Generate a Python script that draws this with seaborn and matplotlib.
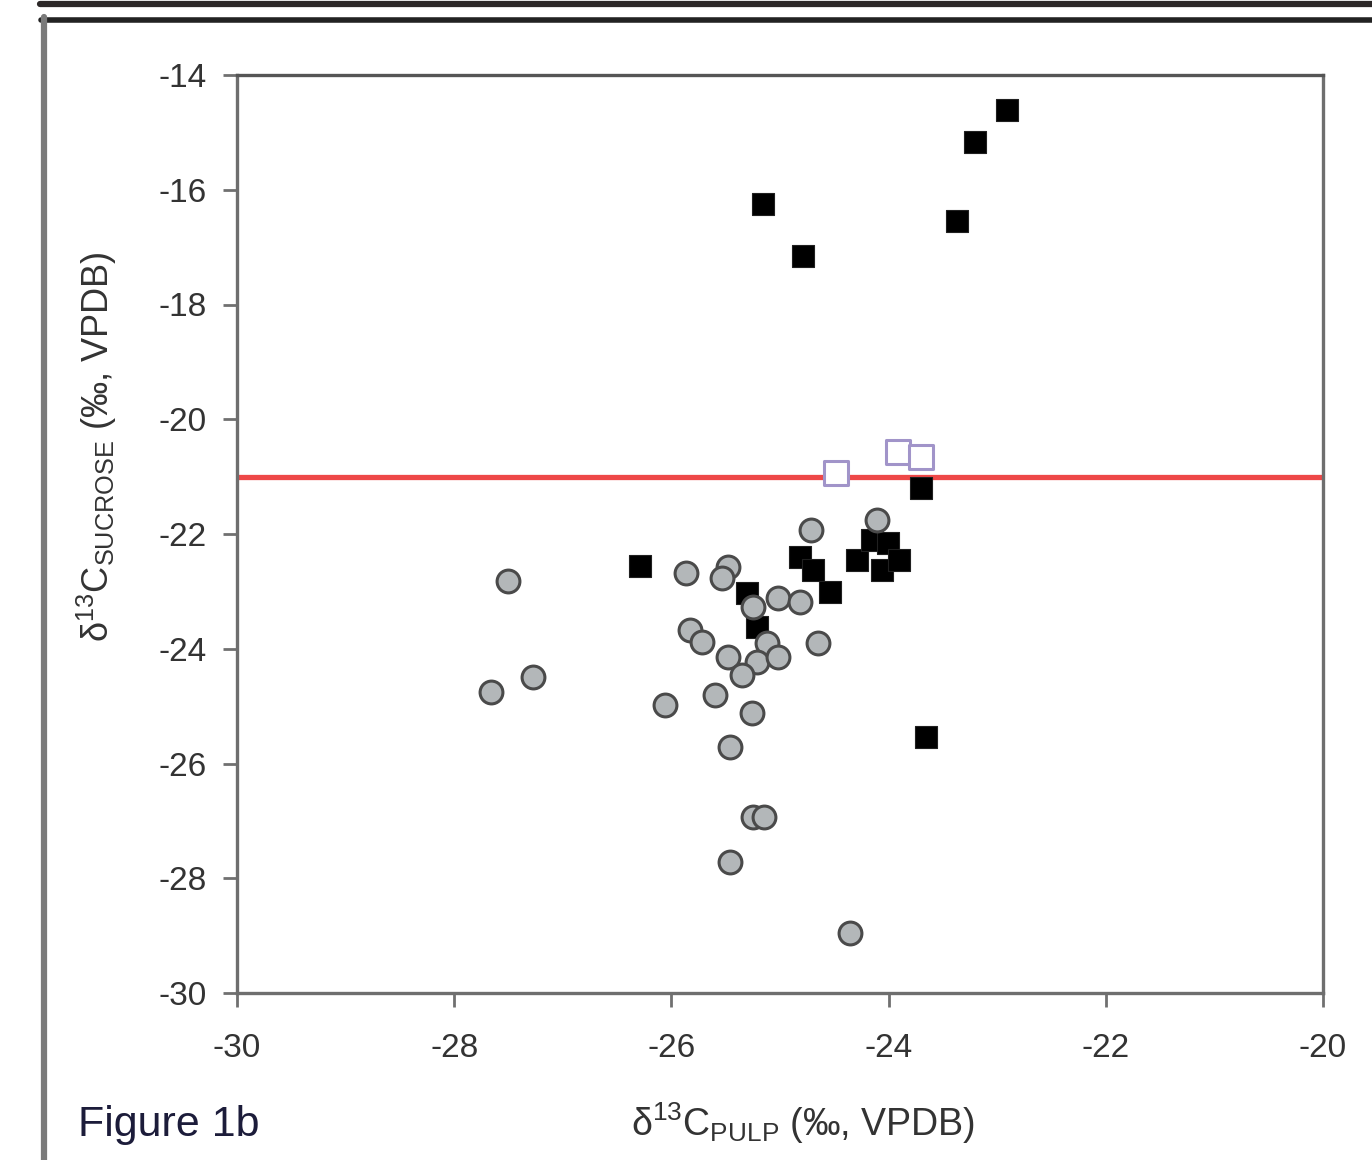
import numpy as np
import pandas as pd
import matplotlib
matplotlib.use("Agg")
import matplotlib.pyplot as plt
from matplotlib.lines import Line2D
import seaborn as sns

# ---- data ----
circle_x = [-24.71, -25.87, -25.48, -25.53, -25.02, -24.82, -25.25, -25.83, -25.72,
            -25.12, -24.65, -25.48, -25.21, -25.02, -25.35, -26.06, -25.60, -25.26,
            -25.46, -25.25, -25.15, -25.46, -24.36, -27.50, -27.27, -27.66, -24.11]
circle_y = [-21.93, -22.68, -22.57, -22.77, -23.12, -23.18, -23.27, -23.67, -23.88,
            -23.90, -23.90, -24.14, -24.23, -24.14, -24.46, -24.98, -24.81, -25.12,
            -25.71, -26.93, -26.93, -27.72, -28.95, -22.82, -24.49, -24.75, -21.76]

black_x = [-22.91, -23.20, -25.16, -23.37, -24.79, -23.70, -26.29, -23.66, -25.30,
           -25.21, -24.82, -24.70, -24.54, -24.29, -24.15, -24.01, -24.06, -23.90]
black_y = [-14.61, -15.17, -16.25, -16.54, -17.15, -21.20, -22.56, -25.54, -23.03,
           -23.62, -22.40, -22.63, -23.01, -22.45, -22.10, -22.16, -22.63, -22.45]

open_x = [-24.48, -23.91, -23.70]
open_y = [-20.94, -20.57, -20.66]

threshold = -21.0
x_ticks = [-30, -28, -26, -24, -22, -20]
y_ticks = [-30, -28, -26, -24, -22, -20, -18, -16, -14]

sns.set_theme(style="white")
plt.rcParams['font.family'] = ['Liberation Sans', 'DejaVu Sans']
plt.rcParams['axes.unicode_minus'] = False
plt.rcParams['mathtext.fontset'] = 'custom'
plt.rcParams['mathtext.rm'] = 'Liberation Sans'
plt.rcParams['mathtext.it'] = 'Liberation Sans:italic'

fig = plt.figure(figsize=(13.72, 11.6), dpi=100)
ax = fig.add_axes([237/1372, 1-993/1160, (1323-237)/1372, (993-75)/1160])

ax.axhline(threshold, color='#ee4848', lw=3.8, zorder=2)

df_b = pd.DataFrame({'x': black_x, 'y': black_y})
df_c = pd.DataFrame({'x': circle_x, 'y': circle_y})
df_o = pd.DataFrame({'x': open_x, 'y': open_y})

sns.scatterplot(data=df_b, x='x', y='y', marker='s', s=240, color='black',
                edgecolor='#202020', linewidth=0.8, ax=ax, zorder=3)
sns.scatterplot(data=df_c, x='x', y='y', marker='o', s=270, color='#b3b7b9',
                edgecolor='#4a4a4a', linewidth=2.2, ax=ax, zorder=4)
sns.scatterplot(data=df_o, x='x', y='y', marker='s', s=320, color='white',
                edgecolor='#a194c9', linewidth=2.2, ax=ax, zorder=5)

ax.set_xlim(-30, -20)
ax.set_ylim(-30, -14)
ax.set_xticks(x_ticks)
ax.set_yticks(y_ticks)
ax.set_xticklabels([str(v) for v in x_ticks])
ax.set_yticklabels([str(v) for v in y_ticks])
ax.set_xlabel('')
ax.set_ylabel('')
ax.tick_params(axis='both', which='major', direction='out', length=10, width=2,
               color='#707070', labelsize=24, labelcolor='#333333',
               bottom=True, left=True)
ax.tick_params(axis='x', pad=19)
ax.tick_params(axis='y', pad=12)
for sp in ax.spines.values():
    sp.set_color('#6e6e6e')
    sp.set_linewidth(2.4)
ax.spines['top'].set_color('#555555')
ax.grid(False)

fig.text(803/1372, 1-1123/1160, r'δ$^{13}$C$_{\mathrm{PULP}}$ (‰, VPDB)',
         ha='center', va='center', fontsize=27, color='#333333')
fig.text(97/1372, 1-447/1160, r'δ$^{13}$C$_{\mathrm{SUCROSE}}$ (‰, VPDB)',
         ha='center', va='center', rotation=90, fontsize=26, color='#333333')
fig.text(78/1372, 1-1125/1160, 'Figure 1b', ha='left', va='center',
         fontsize=31, color='#1c1c3a')

# outer frame lines
fig.add_artist(Line2D([40/1372, 1], [1-3.5/1160, 1-3.5/1160], transform=fig.transFigure,
                      color='#2c2828', lw=4.5))
fig.add_artist(Line2D([41/1372, 1], [1-19.5/1160, 1-19.5/1160], transform=fig.transFigure,
                      color='#222222', lw=4.0))
fig.add_artist(Line2D([44/1372, 44/1372], [0, 1-17/1160], transform=fig.transFigure,
                      color='#7a7a7a', lw=4.5))

fig.savefig('out.png', dpi=100)
